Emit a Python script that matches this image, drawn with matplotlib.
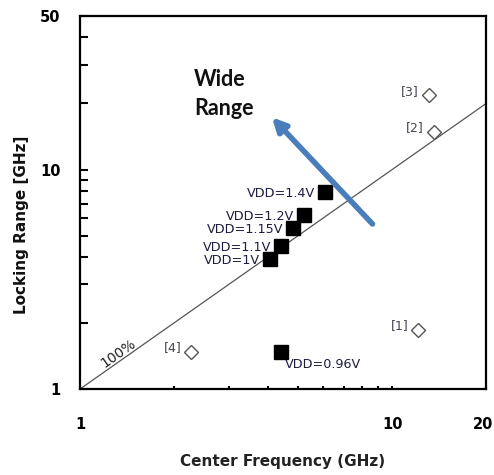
import numpy as np
import matplotlib
matplotlib.use("Agg")
import matplotlib.pyplot as plt
import matplotlib.transforms as mtransforms

# measured points: center frequency (GHz) vs locking range (GHz)
vdd_labels = ["VDD=1.4V", "VDD=1.2V", "VDD=1.15V", "VDD=1.1V", "VDD=1V"]
vdd_freq = [6.1, 5.2, 4.8, 4.4, 4.05]
vdd_range = [7.9, 6.2, 5.4, 4.5, 3.9]

low_label = "VDD=0.96V"
low_freq = 4.4
low_range = 1.48

# published works for comparison
ref_labels = ["[1]", "[2]", "[3]", "[4]"]
ref_freq = [12.1, 13.6, 13.1, 2.27]
ref_range = [1.86, 14.9, 21.8, 1.48]

xticks = [1, 10, 20]
yticks = [1, 10, 50]

fig = plt.figure(figsize=(4.94, 4.75), dpi=100)
ax = fig.add_axes([0.162, 0.181, 0.822, 0.785])
ax.set_xscale("log")
ax.set_yscale("log")
ax.set_xlim(1, 20)
ax.set_ylim(1, 50)

# 100% locking range line
ax.plot([1, 20], [1, 20], color="#555555", lw=0.9, zorder=2)
ax.text(1.21, 1.22, "100%", rotation=35, fontsize=10, color="#222222",
        ha="left", va="bottom", rotation_mode="anchor")

ax.plot(vdd_freq, vdd_range, "s", color="black", ms=9.5, zorder=4)
for f, r, lab in zip(vdd_freq, vdd_range, vdd_labels):
    ax.annotate(lab, (f, r), xytext=(-7, -1), textcoords="offset points",
                ha="right", va="center", fontsize=9.2, color="#1c1c40")

ax.plot([low_freq], [low_range], "s", color="black", ms=9.5, zorder=4)
ax.annotate(low_label, (low_freq, low_range), xytext=(3, -9),
            textcoords="offset points", ha="left", va="center",
            fontsize=9.2, color="#1c1c40")

ax.plot(ref_freq, ref_range, "D", mfc="white", mec="#555555", mew=1.0,
        ms=6.8, zorder=4)
for f, r, lab in zip(ref_freq, ref_range, ref_labels):
    ax.annotate(lab, (f, r), xytext=(-7, 3), textcoords="offset points",
                ha="right", va="center", fontsize=9, color="#444455")

ax.annotate("", xy=(4.12, 17.3), xytext=(8.65, 5.65),
            arrowprops=dict(arrowstyle="-|>,head_length=0.8,head_width=0.4",
                            color="#4a7ebb", lw=4, shrinkA=0, shrinkB=0),
            zorder=5)
ax.text(194, 475 - 115, "Wide\nRange", transform=None, fontsize=15.5,
        fontweight="bold", family=["Lato", "DejaVu Sans"], ha="left",
        va="baseline", linespacing=1.45, color="#111111")

ax.set_xticks(xticks)
ax.set_xticklabels([str(t) for t in xticks])
ax.set_xticks([2, 3, 4, 5, 6, 7, 8, 9], minor=True)
ax.set_xticklabels([], minor=True)
ax.set_yticks(yticks)
ax.set_yticklabels([str(t) for t in yticks])
ax.set_yticks([2, 3, 4, 5, 6, 7, 8, 9, 20, 30, 40], minor=True)
ax.set_yticklabels([], minor=True)

ax.tick_params(axis="x", which="both", direction="in", length=2.5, width=1.5,
               pad=20, labelsize=10.5, top=False)
ax.tick_params(axis="y", which="both", direction="in", length=5.5, width=1.5,
               pad=14, labelsize=10.5, right=False)
for lab in ax.get_xticklabels() + ax.get_yticklabels():
    lab.set_fontweight("bold")
# keep the last x label inside the figure
last = ax.get_xticklabels()[-1]
last.set_horizontalalignment("right")
last.set_transform(last.get_transform() +
                   mtransforms.ScaledTranslation(7 / 100, 0, fig.dpi_scale_trans))
for sp in ax.spines.values():
    sp.set_linewidth(1.6)

ax.set_xlabel("Center Frequency (GHz)", fontsize=11, fontweight="bold",
              color="#222222")
ax.xaxis.set_label_coords(0.5, -0.175)
ax.set_ylabel("Locking Range [GHz]", fontsize=11, fontweight="bold",
              color="#111111")
ax.yaxis.set_label_coords(-0.125, 0.44)

fig.savefig("out.png", dpi=100)
